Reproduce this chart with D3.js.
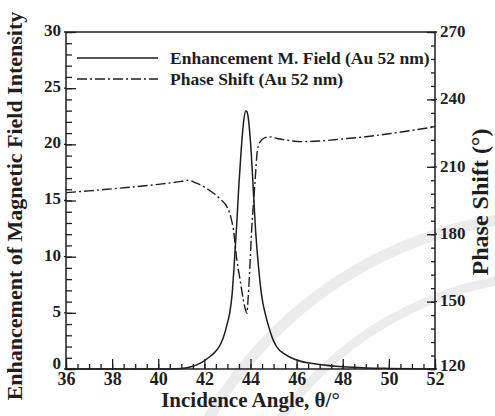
<!DOCTYPE html>
<html>
<head>
<meta charset="utf-8">
<script src="https://cdn.jsdelivr.net/npm/d3@7"></script>
<style>
  html, body { margin: 0; padding: 0; background: #fff; }
  svg { display: block; }
  text { font-family: "Liberation Serif", "Times New Roman", serif; fill: #1e1e1e; }
</style>
</head>
<body>
<svg id="chart" width="495" height="416"></svg>
<script>
// Incidence angle (deg) and magnetic field enhancement, Au 52 nm film
const enhAngle = [36, 38, 40, 41, 41.5, 41.8, 42, 42.3, 42.5, 42.7, 42.9, 43.0, 43.1, 43.2, 43.3, 43.4, 43.5, 43.6, 43.7, 43.8, 43.85, 43.9, 44.0, 44.1, 44.2, 44.3, 44.4, 44.5, 44.63, 44.8, 45.0, 45.13, 45.5, 46, 47, 48, 49, 50, 52];
const enhValue = [0, 0, 0, 0.05, 0.25, 0.5, 0.75, 1.2, 1.6, 2.2, 3.3, 4.1, 5.0, 6.6, 9.5, 12.8, 16.5, 19.6, 22.0, 23.0, 22.9, 22.4, 20.2, 16.8, 13.0, 10.2, 8.0, 6.3, 5.0, 3.7, 2.5, 2.0, 1.3, 0.8, 0.4, 0.2, 0.1, 0.05, 0];

// Reflected phase shift (deg), Au 52 nm film
const phaseAngle = [36, 37, 38, 39, 40, 41, 41.3, 41.6, 42.0, 42.4, 42.7, 43.0, 43.15, 43.26, 43.41, 43.55, 43.69, 43.78, 43.84, 43.9, 43.98, 44.05, 44.15, 44.2, 44.3, 44.41, 44.63, 44.85, 45.2, 45.6, 46.2, 47, 48, 49, 50, 51, 52];
const phaseValue = [198.5, 199.3, 200.2, 201.1, 202.2, 203.5, 204.0, 203.0, 201.0, 198.2, 195.5, 191.8, 187.5, 182, 168.5, 159.6, 150.7, 146.5, 144.8, 152, 167, 182, 196.7, 204, 217.5, 221, 223, 223.3, 222.5, 221.8, 221.2, 221.5, 222.4, 223.4, 224.7, 226.2, 227.8];

const xTicks = [36, 38, 40, 42, 44, 46, 48, 50, 52];
const yTicks = [0, 5, 10, 15, 20, 25, 30];
const y2Ticks = [120, 150, 180, 210, 240, 270];

const seriesNames = ["Enhancement M. Field (Au 52 nm)", "Phase Shift (Au 52 nm)"];
const xTitle = "Incidence Angle, \u03B8/\u00B0";
const yTitle = "Enhancement of Magnetic Field Intensity";
const y2Title = "Phase Shift (\u00B0)";

const W = 495, H = 416;
const margin = { left: 66, top: 32, right: 60, bottom: 47 };
const ink = "#1e1e1e";

const svg = d3.select("#chart");

// faint circular seal behind the plot
const seal = svg.append("g").attr("fill", "none").attr("stroke", "#ececec");
[[405, 11], [345, 9]].forEach(([r, w]) => {
  seal.append("path")
    .attr("transform", "translate(560,620)")
    .attr("stroke-width", w)
    .attr("d", d3.arc()({ innerRadius: r, outerRadius: r, startAngle: -Math.PI * 0.42, endAngle: -Math.PI * 0.02 }));
});

const x = d3.scaleLinear().domain([36, 52]).range([margin.left, W - margin.right]);
const y = d3.scaleLinear().domain([0, 30]).range([H - margin.bottom, margin.top]);
const y2 = d3.scaleLinear().domain([120, 270]).range([H - margin.bottom, margin.top]);

const x0 = x.range()[0], x1 = x.range()[1], yb = y.range()[0], yt = y.range()[1];

// frame
svg.append("rect")
  .attr("x", x0).attr("y", yt).attr("width", x1 - x0).attr("height", yb - yt)
  .attr("fill", "none").attr("stroke", ink).attr("stroke-width", 1.5);

function styleAxis(g, size = 17) {
  g.select(".domain").remove();
  g.selectAll("line").attr("stroke", ink).attr("stroke-width", 1.3);
  g.selectAll("text").attr("font-size", size).attr("font-weight", "bold").attr("fill", ink);
}

// bottom axis
svg.append("g").attr("transform", `translate(0,${yb})`)
  .call(d3.axisBottom(x).tickValues(d3.range(36, 52.01, 0.5)).tickSize(-5).tickFormat(""))
  .call(styleAxis);
svg.append("g").attr("transform", `translate(0,${yb})`)
  .call(d3.axisBottom(x).tickValues(xTicks).tickSizeInner(-10).tickSizeOuter(0).tickPadding(3).tickFormat(d3.format("d")))
  .call(g => styleAxis(g, 18));

// left axis
svg.append("g").attr("transform", `translate(${x0},0)`)
  .call(d3.axisLeft(y).tickValues(d3.range(0, 30.01, 1)).tickSize(-6).tickFormat(""))
  .call(styleAxis);
svg.append("g").attr("transform", `translate(${x0},0)`)
  .call(d3.axisLeft(y).tickValues(yTicks).tickSizeInner(-10).tickSizeOuter(0).tickPadding(5).tickFormat(d3.format("d")))
  .call(styleAxis)
  .call(g => g.selectAll("text").attr("dy", d => d === 0 ? "-0.05em" : "0.2em"));

// right axis
svg.append("g").attr("transform", `translate(${x1},0)`)
  .call(d3.axisRight(y2).tickValues(d3.range(120, 270.01, 6)).tickSize(-4).tickFormat(""))
  .call(styleAxis);
svg.append("g").attr("transform", `translate(${x1},0)`)
  .call(d3.axisRight(y2).tickValues(y2Ticks).tickSizeInner(-8).tickSizeOuter(0).tickPadding(5).tickFormat(d3.format("d")))
  .call(styleAxis)
  .call(g => g.selectAll("text").attr("dy", d => d === 120 ? "0.1em" : "0.25em"));
// short outward stubs on major ticks
svg.append("g").selectAll("line").data(y2Ticks).join("line")
  .attr("x1", x1).attr("x2", x1 + 2).attr("y1", d => y2(d)).attr("y2", d => y2(d))
  .attr("stroke", ink).attr("stroke-width", 1.3);
svg.append("g").selectAll("line").data(yTicks).join("line")
  .attr("x1", x0 - 2).attr("x2", x0).attr("y1", d => y(d)).attr("y2", d => y(d))
  .attr("stroke", ink).attr("stroke-width", 1.3);

// data lines
const enh = enhAngle.map((a, i) => [a, enhValue[i]]);
const phase = phaseAngle.map((a, i) => [a, phaseValue[i]]);
const dashDot = "10,3,2,3";

svg.append("path").datum(enh)
  .attr("fill", "none").attr("stroke", ink).attr("stroke-width", 1.5)
  .attr("d", d3.line().x(d => x(d[0])).y(d => y(d[1])).curve(d3.curveMonotoneX));

svg.append("path").datum(phase)
  .attr("fill", "none").attr("stroke", ink).attr("stroke-width", 1.4)
  .attr("stroke-dasharray", dashDot)
  .attr("d", d3.line().x(d => x(d[0])).y(d => y2(d[1])).curve(d3.curveMonotoneX));

// legend
const legend = svg.append("g");
[0, 1].forEach(i => {
  const ly = 58 + i * 21;
  legend.append("line").attr("x1", 77).attr("x2", 158).attr("y1", ly).attr("y2", ly)
    .attr("stroke", ink).attr("stroke-width", 1.5)
    .attr("stroke-dasharray", i === 1 ? dashDot : null);
  legend.append("text").attr("x", 170).attr("y", ly + 6)
    .attr("font-size", 17.5).attr("font-weight", "bold").text(seriesNames[i]);
});

// axis titles
svg.append("text").attr("x", (x0 + x1) / 2).attr("y", 407)
  .attr("text-anchor", "middle").attr("font-size", 21).attr("font-weight", "bold").text(xTitle);
svg.append("text").attr("transform", "translate(22,206) rotate(-90)")
  .attr("text-anchor", "middle").attr("font-size", 22).attr("font-weight", "bold").text(yTitle);
svg.append("text").attr("transform", "translate(488,202) rotate(-90)")
  .attr("text-anchor", "middle").attr("font-size", 24).attr("font-weight", "bold").text(y2Title);
</script>
</body>
</html>
